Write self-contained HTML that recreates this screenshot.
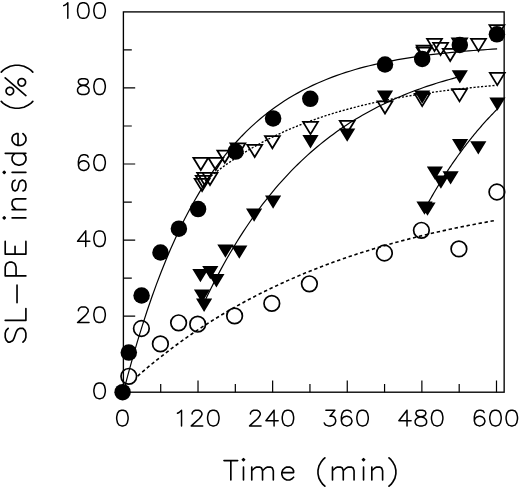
<!DOCTYPE html>
<html><head><meta charset="utf-8"><title>SL-PE inside vs Time</title>
<style>html,body{margin:0;padding:0;background:#fff;font-family:"Liberation Sans",sans-serif;}svg{display:block}</style>
</head><body>
<svg width="520" height="489" viewBox="0 0 520 489">
<rect width="520" height="489" fill="#fff"/>
<g fill="none" stroke="#000" stroke-linecap="butt" stroke-linejoin="miter">
<rect x="123.4" y="11.9" width="380.75" height="380.3" stroke-width="1.35"/>
<path d="M160.71 392.2 v-8.2 M198.02 392.2 v-11.8 M235.33 392.2 v-8.2 M272.64 392.2 v-11.8 M309.95 392.2 v-8.2 M347.26 392.2 v-11.8 M384.57 392.2 v-8.2 M421.88 392.2 v-11.8 M459.19 392.2 v-8.2 M496.50 392.2 v-11.8 M123.4 354.17 h8.4 M123.4 316.14 h11.8 M123.4 278.11 h8.4 M123.4 240.08 h11.8 M123.4 202.05 h8.4 M123.4 164.02 h11.8 M123.4 125.99 h8.4 M123.4 87.96 h11.8 M123.4 49.93 h8.4" stroke-width="1.2"/>
<path d="M137.60 376.09 L142.14 372.15 L146.69 368.30 L151.23 364.52 L155.77 360.81 L160.32 357.19 L164.86 353.63 L169.40 350.15 L173.94 346.74 L178.49 343.40 L183.03 340.12 L187.57 336.91 L192.12 333.77 L196.66 330.69 L201.20 327.67 L205.75 324.71 L210.29 321.82 L214.83 318.98 L219.37 316.20 L223.92 313.47 L228.46 310.80 L233.00 308.19 L237.55 305.63 L242.09 303.11 L246.63 300.66 L251.18 298.25 L255.72 295.88 L260.26 293.57 L264.80 291.30 L269.35 289.08 L273.89 286.91 L278.43 284.78 L282.98 282.69 L287.52 280.64 L292.06 278.64 L296.61 276.67 L301.15 274.75 L305.69 272.86 L310.23 271.02 L314.78 269.21 L319.32 267.43 L323.86 265.70 L328.41 264.00 L332.95 262.33 L337.49 260.69 L342.04 259.09 L346.58 257.52 L351.12 255.99 L355.66 254.48 L360.21 253.01 L364.75 251.56 L369.29 250.15 L373.84 248.76 L378.38 247.40 L382.92 246.07 L387.47 244.76 L392.01 243.49 L396.55 242.23 L401.09 241.01 L405.64 239.80 L410.18 238.63 L414.72 237.47 L419.27 236.34 L423.81 235.23 L428.35 234.15 L432.90 233.09 L437.44 232.04 L441.98 231.02 L446.52 230.02 L451.07 229.04 L455.61 228.08 L460.15 227.14 L464.70 226.22 L469.24 225.32 L473.78 224.43 L478.33 223.57 L482.87 222.72 L487.41 221.89 L491.95 221.07 L496.50 220.27" stroke-width="1.6" stroke-dasharray="3.4 2.7"/>
<path d="M205.00 180.91 L208.69 177.87 L212.38 174.91 L216.07 172.04 L219.76 169.25 L223.45 166.53 L227.14 163.90 L230.83 161.34 L234.52 158.86 L238.21 156.44 L241.90 154.10 L245.59 151.82 L249.28 149.61 L252.97 147.46 L256.66 145.37 L260.35 143.35 L264.04 141.38 L267.73 139.47 L271.42 137.61 L275.11 135.80 L278.80 134.05 L282.49 132.35 L286.18 130.70 L289.87 129.09 L293.56 127.53 L297.25 126.01 L300.94 124.54 L304.63 123.11 L308.32 121.72 L312.01 120.37 L315.70 119.06 L319.39 117.79 L323.08 116.55 L326.76 115.35 L330.45 114.19 L334.14 113.05 L337.83 111.95 L341.52 110.88 L345.21 109.84 L348.90 108.84 L352.59 107.86 L356.28 106.90 L359.97 105.98 L363.66 105.08 L367.35 104.21 L371.04 103.36 L374.73 102.54 L378.42 101.74 L382.11 100.96 L385.80 100.21 L389.49 99.48 L393.18 98.77 L396.87 98.07 L400.56 97.40 L404.25 96.75 L407.94 96.12 L411.63 95.50 L415.32 94.91 L419.01 94.32 L422.70 93.76 L426.39 93.21 L430.08 92.68 L433.77 92.16 L437.46 91.66 L441.15 91.18 L444.84 90.70 L448.53 90.24 L452.22 89.80 L455.91 89.36 L459.60 88.94 L463.29 88.53 L466.98 88.13 L470.67 87.75 L474.36 87.37 L478.05 87.01 L481.74 86.65 L485.43 86.31 L489.12 85.97 L492.81 85.65 L496.50 85.33" stroke-width="1.35" stroke-dasharray="2.1 1.7"/>
<path d="M123.40 392.20 L128.13 374.20 L132.86 357.13 L137.59 340.94 L142.32 325.58 L147.05 311.02 L151.78 297.21 L156.51 284.11 L161.25 271.69 L165.98 259.91 L170.71 248.74 L175.44 238.15 L180.17 228.10 L184.90 218.57 L189.63 209.54 L194.36 200.97 L199.09 192.84 L203.82 185.14 L208.55 177.83 L213.28 170.89 L218.01 164.32 L222.74 158.09 L227.47 152.17 L232.20 146.57 L236.94 141.25 L241.67 136.21 L246.40 131.42 L251.13 126.89 L255.86 122.59 L260.59 118.51 L265.32 114.64 L270.05 110.97 L274.78 107.49 L279.51 104.19 L284.24 101.06 L288.97 98.10 L293.70 95.28 L298.43 92.61 L303.16 90.08 L307.89 87.68 L312.63 85.40 L317.36 83.25 L322.09 81.20 L326.82 79.26 L331.55 77.41 L336.28 75.67 L341.01 74.01 L345.74 72.44 L350.47 70.95 L355.20 69.54 L359.93 68.20 L364.66 66.93 L369.39 65.72 L374.12 64.58 L378.85 63.50 L383.58 62.47 L388.32 61.50 L393.05 60.57 L397.78 59.69 L402.51 58.86 L407.24 58.08 L411.97 57.33 L416.70 56.62 L421.43 55.95 L426.16 55.31 L430.89 54.70 L435.62 54.13 L440.35 53.59 L445.08 53.07 L449.81 52.58 L454.54 52.12 L459.27 51.68 L464.01 51.26 L468.74 50.86 L473.47 50.49 L478.20 50.13 L482.93 49.80 L487.66 49.48 L492.39 49.17 L497.12 48.88" stroke-width="1.2"/>
<path d="M204.50 301.70 L207.72 295.00 L210.94 288.47 L214.16 282.12 L217.39 275.93 L220.61 269.90 L223.83 264.03 L227.05 258.31 L230.27 252.75 L233.49 247.32 L236.72 242.04 L239.94 236.90 L243.16 231.89 L246.38 227.02 L249.60 222.27 L252.82 217.64 L256.04 213.13 L259.27 208.75 L262.49 204.47 L265.71 200.31 L268.93 196.26 L272.15 192.31 L275.37 188.47 L278.59 184.73 L281.82 181.08 L285.04 177.53 L288.26 174.07 L291.48 170.70 L294.70 167.42 L297.92 164.23 L301.15 161.12 L304.37 158.09 L307.59 155.14 L310.81 152.27 L314.03 149.47 L317.25 146.74 L320.47 144.09 L323.70 141.51 L326.92 138.99 L330.14 136.54 L333.36 134.15 L336.58 131.82 L339.80 129.56 L343.03 127.35 L346.25 125.21 L349.47 123.12 L352.69 121.08 L355.91 119.09 L359.13 117.16 L362.35 115.28 L365.58 113.45 L368.80 111.66 L372.02 109.93 L375.24 108.23 L378.46 106.58 L381.68 104.98 L384.91 103.42 L388.13 101.89 L391.35 100.41 L394.57 98.97 L397.79 97.56 L401.01 96.19 L404.23 94.86 L407.46 93.56 L410.68 92.29 L413.90 91.06 L417.12 89.86 L420.34 88.69 L423.56 87.55 L426.78 86.44 L430.01 85.37 L433.23 84.31 L436.45 83.29 L439.67 82.29 L442.89 81.32 L446.11 80.38 L449.34 79.46 L452.56 78.56 L455.78 77.68 L459.00 76.83" stroke-width="1.2"/>
<path d="M426.50 206.02 L427.40 204.38 L428.29 202.77 L429.19 201.16 L430.09 199.57 L430.99 197.99 L431.88 196.42 L432.78 194.86 L433.68 193.31 L434.58 191.78 L435.47 190.26 L436.37 188.75 L437.27 187.25 L438.17 185.76 L439.06 184.29 L439.96 182.82 L440.86 181.37 L441.76 179.93 L442.65 178.49 L443.55 177.07 L444.45 175.66 L445.35 174.27 L446.24 172.88 L447.14 171.50 L448.04 170.13 L448.94 168.78 L449.83 167.43 L450.73 166.09 L451.63 164.77 L452.53 163.45 L453.42 162.14 L454.32 160.85 L455.22 159.56 L456.12 158.29 L457.01 157.02 L457.91 155.76 L458.81 154.52 L459.71 153.28 L460.60 152.05 L461.50 150.83 L462.40 149.62 L463.30 148.42 L464.19 147.23 L465.09 146.05 L465.99 144.87 L466.89 143.71 L467.78 142.55 L468.68 141.41 L469.58 140.27 L470.48 139.14 L471.37 138.02 L472.27 136.91 L473.17 135.80 L474.07 134.71 L474.96 133.62 L475.86 132.54 L476.76 131.47 L477.66 130.41 L478.55 129.36 L479.45 128.31 L480.35 127.27 L481.25 126.24 L482.14 125.22 L483.04 124.21 L483.94 123.20 L484.84 122.20 L485.73 121.21 L486.63 120.22 L487.53 119.25 L488.43 118.28 L489.32 117.32 L490.22 116.36 L491.12 115.42 L492.02 114.48 L492.91 113.54 L493.81 112.62 L494.71 111.70 L495.61 110.79 L496.50 109.88 L497.40 108.99" stroke-width="1.2"/>
</g>
<g fill="none" stroke="#000" stroke-width="1.75" stroke-linejoin="miter">
<path d="M194.65 178.85 L209.55 178.85 L202.10 191.05 Z M195.75 175.75 L210.65 175.75 L203.20 187.95 Z M197.15 172.85 L212.05 172.85 L204.60 185.05 Z M202.55 172.85 L217.45 172.85 L210.00 185.05 Z M193.35 157.75 L208.25 157.75 L200.80 169.95 Z M208.35 157.75 L223.25 157.75 L215.80 169.95 Z M217.35 150.55 L232.25 150.55 L224.80 162.75 Z M230.45 143.45 L245.35 143.45 L237.90 155.65 Z M247.25 144.85 L262.15 144.85 L254.70 157.05 Z M264.95 136.05 L279.85 136.05 L272.40 148.25 Z M303.05 121.95 L317.95 121.95 L310.50 134.15 Z M339.75 120.75 L354.65 120.75 L347.20 132.95 Z M377.55 101.35 L392.45 101.35 L385.00 113.55 Z M414.75 93.95 L429.65 93.95 L422.20 106.15 Z M452.05 89.15 L466.95 89.15 L459.50 101.35 Z M489.85 72.95 L504.75 72.95 L497.30 85.15 Z M416.65 45.65 L431.55 45.65 L424.10 57.85 Z M416.65 47.65 L431.55 47.65 L424.10 59.85 Z M427.05 38.95 L441.95 38.95 L434.50 51.15 Z M433.15 42.95 L448.05 42.95 L440.60 55.15 Z M442.75 48.75 L457.65 48.75 L450.20 60.95 Z M452.15 38.35 L467.05 38.35 L459.60 50.55 Z M471.05 38.95 L485.95 38.95 L478.50 51.15 Z M489.45 25.15 L504.35 25.15 L496.90 37.35 Z"/>
<circle cx="128.8" cy="376.3" r="7.8" stroke-width="1.7"/>
<circle cx="141.4" cy="328.5" r="7.8" stroke-width="1.7"/>
<circle cx="160.4" cy="343.9" r="7.8" stroke-width="1.7"/>
<circle cx="178.6" cy="322.8" r="7.8" stroke-width="1.7"/>
<circle cx="197.7" cy="324.2" r="7.8" stroke-width="1.7"/>
<circle cx="234.6" cy="315.9" r="7.8" stroke-width="1.7"/>
<circle cx="271.8" cy="303.4" r="7.8" stroke-width="1.7"/>
<circle cx="309.4" cy="283.8" r="7.8" stroke-width="1.7"/>
<circle cx="384.4" cy="253.0" r="7.8" stroke-width="1.7"/>
<circle cx="421.4" cy="230.29999999999998" r="7.8" stroke-width="1.7"/>
<circle cx="458.9" cy="248.89999999999998" r="7.8" stroke-width="1.7"/>
<circle cx="496.9" cy="192.0" r="7.8" stroke-width="1.7"/>
</g>
<g fill="#000" stroke="none">
<path d="M196.00 298.60 L212.20 298.60 L204.10 311.90 Z M193.90 289.40 L210.10 289.40 L202.00 302.70 Z M208.30 274.10 L224.50 274.10 L216.40 287.40 Z M192.30 269.00 L208.50 269.00 L200.40 282.30 Z M202.20 265.90 L218.40 265.90 L210.30 279.20 Z M217.30 244.40 L233.50 244.40 L225.40 257.70 Z M231.20 245.50 L247.40 245.50 L239.30 258.80 Z M246.00 208.50 L262.20 208.50 L254.10 221.80 Z M265.00 195.40 L281.20 195.40 L273.10 208.70 Z M302.40 135.10 L318.60 135.10 L310.50 148.40 Z M339.10 128.40 L355.30 128.40 L347.20 141.70 Z M376.90 90.60 L393.10 90.60 L385.00 103.90 Z M414.10 90.40 L430.30 90.40 L422.20 103.70 Z M451.70 70.30 L467.90 70.30 L459.80 83.60 Z M416.40 201.40 L432.60 201.40 L424.50 214.70 Z M419.40 202.40 L435.60 202.40 L427.50 215.70 Z M426.80 166.40 L443.00 166.40 L434.90 179.70 Z M432.80 175.40 L449.00 175.40 L440.90 188.70 Z M442.50 171.30 L458.70 171.30 L450.60 184.60 Z M452.00 138.90 L468.20 138.90 L460.10 152.20 Z M470.20 141.20 L486.40 141.20 L478.30 154.50 Z M489.30 97.40 L505.50 97.40 L497.40 110.70 Z"/>
<circle cx="122.6" cy="392.2" r="8.25"/>
<circle cx="128.8" cy="352.6" r="8.25"/>
<circle cx="141.6" cy="295.5" r="8.25"/>
<circle cx="160.5" cy="252.5" r="8.25"/>
<circle cx="178.9" cy="228.7" r="8.25"/>
<circle cx="198.1" cy="209.1" r="8.25"/>
<circle cx="235.6" cy="151.6" r="8.25"/>
<circle cx="273.1" cy="118.4" r="8.25"/>
<circle cx="310.3" cy="98.8" r="8.25"/>
<circle cx="385" cy="64.5" r="8.25"/>
<circle cx="422.2" cy="58.9" r="8.25"/>
<circle cx="459.8" cy="45" r="8.25"/>
<circle cx="496.9" cy="34.3" r="8.25"/>
</g>
<g fill="none" stroke="#000" stroke-linecap="round" stroke-linejoin="round">
<path d="M121.58 410.25 L119.14 411.00 L117.51 413.23 L116.69 416.96 L116.69 419.19 L117.51 422.92 L119.14 425.15 L121.58 425.90 L123.22 425.90 L125.66 425.15 L127.29 422.92 L128.10 419.19 L128.10 416.96 L127.29 413.23 L125.66 411.00 L123.22 410.25 L121.58 410.25 M177.46 413.23 L179.09 412.49 L181.53 410.25 L181.53 425.90 M192.13 413.98 L192.13 413.23 L192.94 411.75 L193.76 411.00 L195.39 410.25 L198.65 410.25 L200.28 411.00 L201.09 411.75 L201.91 413.23 L201.91 414.72 L201.09 416.21 L199.46 418.45 L191.31 425.90 L202.72 425.90 M212.50 410.25 L210.06 411.00 L208.43 413.23 L207.61 416.96 L207.61 419.19 L208.43 422.92 L210.06 425.15 L212.50 425.90 L214.13 425.90 L216.58 425.15 L218.21 422.92 L219.02 419.19 L219.02 416.96 L218.21 413.23 L216.58 411.00 L214.13 410.25 L212.50 410.25 M250.45 413.98 L250.45 413.23 L251.26 411.75 L252.08 411.00 L253.71 410.25 L256.97 410.25 L258.60 411.00 L259.41 411.75 L260.23 413.23 L260.23 414.72 L259.41 416.21 L257.78 418.45 L249.63 425.90 L261.04 425.90 M274.08 410.25 L265.93 420.69 L278.16 420.69 M274.08 410.25 L274.08 425.90 M287.12 410.25 L284.68 411.00 L283.05 413.23 L282.23 416.96 L282.23 419.19 L283.05 422.92 L284.68 425.15 L287.12 425.90 L288.75 425.90 L291.20 425.15 L292.83 422.92 L293.64 419.19 L293.64 416.96 L292.83 413.23 L291.20 411.00 L288.75 410.25 L287.12 410.25 M325.88 410.25 L334.85 410.25 L329.96 416.21 L332.40 416.21 L334.03 416.96 L334.85 417.70 L335.66 419.94 L335.66 421.43 L334.85 423.66 L333.22 425.15 L330.77 425.90 L328.33 425.90 L325.88 425.15 L325.07 424.41 L324.25 422.92 M351.15 412.49 L350.33 411.00 L347.89 410.25 L346.26 410.25 L343.81 411.00 L342.18 413.23 L341.37 416.96 L341.37 420.69 L342.18 423.66 L343.81 425.15 L346.26 425.90 L347.07 425.90 L349.52 425.15 L351.15 423.66 L351.96 421.43 L351.96 420.69 L351.15 418.45 L349.52 416.96 L347.07 416.21 L346.26 416.21 L343.81 416.96 L342.18 418.45 L341.37 420.69 M361.74 410.25 L359.30 411.00 L357.67 413.23 L356.85 416.96 L356.85 419.19 L357.67 422.92 L359.30 425.15 L361.74 425.90 L363.37 425.90 L365.82 425.15 L367.45 422.92 L368.26 419.19 L368.26 416.96 L367.45 413.23 L365.82 411.00 L363.37 410.25 L361.74 410.25 M407.02 410.25 L398.87 420.69 L411.10 420.69 M407.02 410.25 L407.02 425.90 M419.25 410.25 L416.80 411.00 L415.99 412.49 L415.99 413.98 L416.80 415.47 L418.43 416.21 L421.69 416.96 L424.14 417.70 L425.77 419.19 L426.58 420.69 L426.58 422.92 L425.77 424.41 L424.95 425.15 L422.51 425.90 L419.25 425.90 L416.80 425.15 L415.99 424.41 L415.17 422.92 L415.17 420.69 L415.99 419.19 L417.62 417.70 L420.06 416.96 L423.32 416.21 L424.95 415.47 L425.77 413.98 L425.77 412.49 L424.95 411.00 L422.51 410.25 L419.25 410.25 M436.36 410.25 L433.92 411.00 L432.29 413.23 L431.47 416.96 L431.47 419.19 L432.29 422.92 L433.92 425.15 L436.36 425.90 L437.99 425.90 L440.44 425.15 L442.07 422.92 L442.88 419.19 L442.88 416.96 L442.07 413.23 L440.44 411.00 L437.99 410.25 L436.36 410.25 M484.09 412.49 L483.27 411.00 L480.83 410.25 L479.20 410.25 L476.75 411.00 L475.12 413.23 L474.31 416.96 L474.31 420.69 L475.12 423.66 L476.75 425.15 L479.20 425.90 L480.01 425.90 L482.46 425.15 L484.09 423.66 L484.90 421.43 L484.90 420.69 L484.09 418.45 L482.46 416.96 L480.01 416.21 L479.20 416.21 L476.75 416.96 L475.12 418.45 L474.31 420.69 M494.68 410.25 L492.24 411.00 L490.61 413.23 L489.79 416.96 L489.79 419.19 L490.61 422.92 L492.24 425.15 L494.68 425.90 L496.31 425.90 L498.76 425.15 L500.39 422.92 L501.20 419.19 L501.20 416.96 L500.39 413.23 L498.76 411.00 L496.31 410.25 L494.68 410.25 M510.98 410.25 L508.54 411.00 L506.91 413.23 L506.09 416.96 L506.09 419.19 L506.91 422.92 L508.54 425.15 L510.98 425.90 L512.61 425.90 L515.06 425.15 L516.69 422.92 L517.50 419.19 L517.50 416.96 L516.69 413.23 L515.06 411.00 L512.61 410.25 L510.98 410.25 M98.78 383.00 L96.33 383.75 L94.70 385.98 L93.89 389.71 L93.89 391.94 L94.70 395.67 L96.33 397.90 L98.78 398.65 L100.41 398.65 L102.85 397.90 L104.48 395.67 L105.30 391.94 L105.30 389.71 L104.48 385.98 L102.85 383.75 L100.41 383.00 L98.78 383.00 M78.41 310.67 L78.41 309.92 L79.22 308.44 L80.03 307.69 L81.66 306.94 L84.92 306.94 L86.55 307.69 L87.37 308.44 L88.19 309.92 L88.19 311.41 L87.37 312.90 L85.74 315.14 L77.59 322.59 L89.00 322.59 M98.78 306.94 L96.33 307.69 L94.70 309.92 L93.89 313.65 L93.89 315.88 L94.70 319.61 L96.33 321.84 L98.78 322.59 L100.41 322.59 L102.85 321.84 L104.48 319.61 L105.30 315.88 L105.30 313.65 L104.48 309.92 L102.85 307.69 L100.41 306.94 L98.78 306.94 M85.74 230.88 L77.59 241.31 L89.81 241.31 M85.74 230.88 L85.74 246.53 M98.78 230.88 L96.33 231.63 L94.70 233.86 L93.89 237.59 L93.89 239.82 L94.70 243.55 L96.33 245.78 L98.78 246.53 L100.41 246.53 L102.85 245.78 L104.48 243.55 L105.30 239.82 L105.30 237.59 L104.48 233.86 L102.85 231.63 L100.41 230.88 L98.78 230.88 M88.19 157.06 L87.37 155.57 L84.92 154.82 L83.29 154.82 L80.85 155.57 L79.22 157.80 L78.41 161.53 L78.41 165.25 L79.22 168.23 L80.85 169.72 L83.29 170.47 L84.11 170.47 L86.55 169.72 L88.19 168.23 L89.00 166.00 L89.00 165.25 L88.19 163.02 L86.55 161.53 L84.11 160.78 L83.29 160.78 L80.85 161.53 L79.22 163.02 L78.41 165.25 M98.78 154.82 L96.33 155.57 L94.70 157.80 L93.89 161.53 L93.89 163.76 L94.70 167.49 L96.33 169.72 L98.78 170.47 L100.41 170.47 L102.85 169.72 L104.48 167.49 L105.30 163.76 L105.30 161.53 L104.48 157.80 L102.85 155.57 L100.41 154.82 L98.78 154.82 M81.66 78.76 L79.22 79.51 L78.41 81.00 L78.41 82.49 L79.22 83.98 L80.85 84.72 L84.11 85.47 L86.55 86.21 L88.19 87.70 L89.00 89.19 L89.00 91.43 L88.19 92.92 L87.37 93.66 L84.92 94.41 L81.66 94.41 L79.22 93.66 L78.41 92.92 L77.59 91.43 L77.59 89.19 L78.41 87.70 L80.03 86.21 L82.48 85.47 L85.74 84.72 L87.37 83.98 L88.19 82.49 L88.19 81.00 L87.37 79.51 L84.92 78.76 L81.66 78.76 M98.78 78.76 L96.33 79.51 L94.70 81.74 L93.89 85.47 L93.89 87.70 L94.70 91.43 L96.33 93.66 L98.78 94.41 L100.41 94.41 L102.85 93.66 L104.48 91.43 L105.30 87.70 L105.30 85.47 L104.48 81.74 L102.85 79.51 L100.41 78.76 L98.78 78.76 M63.73 5.68 L65.36 4.94 L67.81 2.70 L67.81 18.35 M82.48 2.70 L80.03 3.45 L78.41 5.68 L77.59 9.41 L77.59 11.64 L78.41 15.37 L80.03 17.60 L82.48 18.35 L84.11 18.35 L86.55 17.60 L88.19 15.37 L89.00 11.64 L89.00 9.41 L88.19 5.68 L86.55 3.45 L84.11 2.70 L82.48 2.70 M98.78 2.70 L96.33 3.45 L94.70 5.68 L93.89 9.41 L93.89 11.64 L94.70 15.37 L96.33 17.60 L98.78 18.35 L100.41 18.35 L102.85 17.60 L104.48 15.37 L105.30 11.64 L105.30 9.41 L104.48 5.68 L102.85 3.45 L100.41 2.70 L98.78 2.70" stroke-width="1.5"/>
<path d="M230.84 460.57 L230.84 480.00 M223.98 460.57 L237.70 460.57 M242.50 459.65 L243.48 460.57 L244.46 459.65 L243.48 458.73 L242.50 459.65 M243.48 467.05 L243.48 480.00 M251.76 467.05 L251.76 480.00 M251.76 470.75 L254.70 467.98 L256.66 467.05 L259.60 467.05 L261.56 467.98 L262.54 470.75 L262.54 480.00 M262.54 470.75 L265.48 467.98 L267.44 467.05 L270.38 467.05 L272.34 467.98 L273.32 470.75 L273.32 480.00 M281.83 472.60 L293.59 472.60 L293.59 470.75 L292.61 468.90 L291.63 467.98 L289.67 467.05 L286.73 467.05 L284.77 467.98 L282.81 469.82 L281.83 472.60 L281.83 474.45 L282.81 477.23 L284.77 479.07 L286.73 480.00 L289.67 480.00 L291.63 479.07 L293.59 477.23 M324.86 457.88 L322.90 459.64 L320.94 462.30 L318.98 465.84 L318.00 470.26 L318.00 473.81 L318.98 478.23 L320.94 481.77 L322.90 484.43 L324.86 486.19 M332.49 467.05 L332.49 480.00 M332.49 470.75 L335.43 467.98 L337.39 467.05 L340.33 467.05 L342.29 467.98 L343.27 470.75 L343.27 480.00 M343.27 470.75 L346.21 467.98 L348.17 467.05 L351.11 467.05 L353.07 467.98 L354.05 470.75 L354.05 480.00 M362.56 459.65 L363.54 460.57 L364.52 459.65 L363.54 458.73 L362.56 459.65 M363.54 467.05 L363.54 480.00 M371.82 467.05 L371.82 480.00 M371.82 470.75 L374.76 467.98 L376.72 467.05 L379.66 467.05 L381.62 467.98 L382.60 470.75 L382.60 480.00 M389.00 457.88 L390.97 459.64 L392.93 462.30 L394.88 465.84 L395.87 470.26 L395.87 473.81 L394.88 478.23 L392.93 481.77 L390.97 484.43 L389.00 486.19" stroke-width="1.65"/>
<path d="M8.17 328.34 L6.20 330.30 L5.21 333.24 L5.21 337.16 L6.20 340.10 L8.17 342.06 L10.14 342.06 L12.11 341.08 L13.09 340.10 L14.08 338.14 L16.05 332.26 L17.03 330.30 L18.02 329.32 L19.99 328.34 L22.95 328.34 L24.91 330.30 L25.90 333.24 L25.90 337.16 L24.91 340.10 L22.95 342.06 M5.21 320.38 L25.90 320.38 M25.90 320.38 L25.90 308.62 M17.03 302.79 L17.03 285.14 M5.21 275.88 L25.90 275.88 M5.21 275.88 L5.21 267.06 L6.20 264.12 L7.18 263.13 L9.15 262.15 L12.11 262.15 L14.08 263.13 L15.06 264.12 L16.05 267.06 L16.05 275.88 M5.21 254.14 L25.90 254.14 M5.21 254.14 L5.21 241.40 M15.06 254.14 L15.06 246.30 M25.90 254.14 L25.90 241.40 M4.23 218.90 L5.21 217.92 L4.23 216.94 L3.24 217.92 L4.23 218.90 M12.11 217.92 L25.90 217.92 M12.11 209.64 L25.90 209.64 M16.05 209.64 L13.09 206.69 L12.11 204.74 L12.11 201.80 L13.09 199.84 L16.05 198.86 L25.90 198.86 M15.06 180.17 L13.09 181.15 L12.11 184.09 L12.11 187.03 L13.09 189.97 L15.06 190.95 L17.03 189.97 L18.02 188.01 L19.00 183.11 L19.99 181.15 L21.96 180.17 L22.95 180.17 L24.91 181.15 L25.90 184.09 L25.90 187.03 L24.91 189.97 L22.95 190.95 M4.23 173.36 L5.21 172.38 L4.23 171.40 L3.24 172.38 L4.23 173.36 M12.11 172.38 L25.90 172.38 M5.21 153.32 L25.90 153.32 M15.06 153.32 L13.09 155.28 L12.11 157.24 L12.11 160.18 L13.09 162.14 L15.06 164.10 L18.02 165.08 L19.99 165.08 L22.95 164.10 L24.91 162.14 L25.90 160.18 L25.90 157.24 L24.91 155.28 L22.95 153.32 M18.02 145.41 L18.02 133.65 L16.05 133.65 L14.08 134.63 L13.09 135.61 L12.11 137.57 L12.11 140.51 L13.09 142.47 L15.06 144.43 L18.02 145.41 L19.99 145.41 L22.95 144.43 L24.91 142.47 L25.90 140.51 L25.90 137.57 L24.91 135.61 L22.95 133.65 M1.27 101.38 L3.24 103.34 L6.20 105.30 L10.14 107.26 L15.06 108.24 L19.00 108.24 L23.93 107.26 L27.87 105.30 L30.82 103.34 L32.80 101.38 M5.21 77.89 L25.90 95.53 M9.84 87.20 L8.18 87.58 L6.84 88.64 L6.10 90.17 L6.10 91.87 L6.84 93.40 L8.18 94.46 L9.84 94.84 L11.51 94.46 L12.85 93.40 L13.59 91.87 L13.59 90.17 L12.85 88.64 L11.51 87.58 L9.84 87.20 M21.76 78.48 L20.10 78.86 L18.76 79.92 L18.02 81.45 L18.02 83.15 L18.76 84.68 L20.10 85.74 L21.76 86.12 L23.43 85.74 L24.77 84.68 L25.51 83.15 L25.51 81.45 L24.77 79.92 L23.43 78.86 L21.76 78.48 M1.27 72.09 L3.24 70.13 L6.20 68.17 L10.14 66.21 L15.06 65.23 L19.00 65.23 L23.93 66.21 L27.87 68.17 L30.82 70.13 L32.80 72.09" stroke-width="1.65"/>
</g>
</svg>
</body></html>
